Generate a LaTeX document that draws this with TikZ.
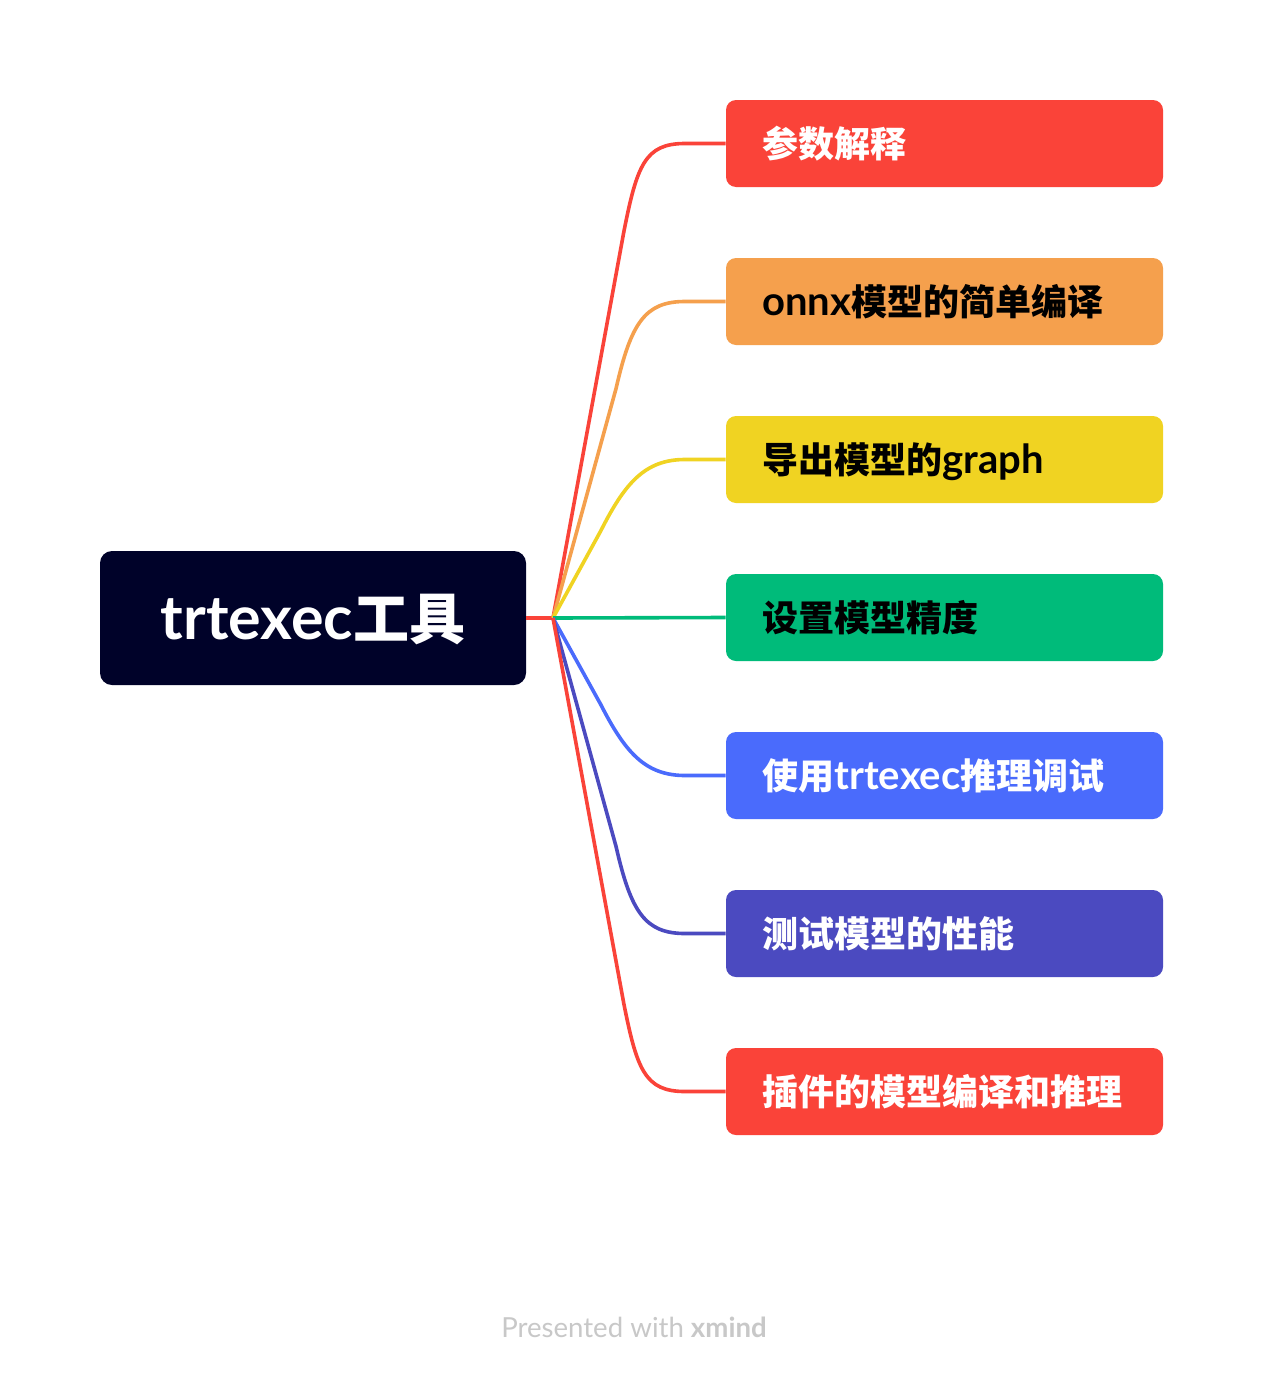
\documentclass[tikz,border=0pt]{standalone}
\usepackage{fontspec}
\newfontfamily\cjk{Noto Sans CJK SC}
\newfontfamily\latf{Lato}
\definecolor{cred}{HTML}{FA4339}
\definecolor{corange}{HTML}{F5A04D}
\definecolor{cyellow}{HTML}{F0D322}
\definecolor{cgreen}{HTML}{00BB7A}
\definecolor{cblue}{HTML}{4A6BFC}
\definecolor{cpurple}{HTML}{4B4AC0}
\definecolor{croot}{HTML}{000229}
\definecolor{cfoot}{HTML}{C8C8C8}
\newcommand{\lat}[1]{{\latf\bfseries\fontsize{20}{22}\selectfont #1}}
\begin{document}
\begin{tikzpicture}[x=0.5pt,y=-0.5pt,
  box/.style={rounded corners=5pt, minimum width=218.5pt, minimum height=43.5pt, inner sep=0pt, draw=none},
  lbl/.style={anchor=west, inner sep=0pt, text height=15.6pt, text depth=2pt, font=\cjk\bfseries\fontsize{18}{20}\selectfont},
  conn/.style={line width=1.8pt}]
\fill[white] (0,0) rectangle (1264,1376);
\useasboundingbox (0,0) rectangle (1264,1376);
% root
\node[fill=croot, rounded corners=6pt, minimum width=213pt, minimum height=67pt, inner sep=0pt] (root) at (313,618) {};
\node[inner sep=0pt, text=white, text height=23.2pt, text depth=2pt, font=\cjk\bfseries\fontsize{28}{30}\selectfont] (rootlbl) at (313,618) {{\latf\bfseries\fontsize{30.5}{32}\selectfont trtexec}工具};
% branches
\node[box, fill=cred] (b1) at (944.5,143.5) {};
\node[box, fill=corange] (b2) at (944.5,301.5) {};
\node[box, fill=cyellow] (b3) at (944.5,459.5) {};
\node[box, fill=cgreen] (b4) at (944.5,617.5) {};
\node[box, fill=cblue] (b5) at (944.5,775.5) {};
\node[box, fill=cpurple] (b6) at (944.5,933.5) {};
\node[box, fill=cred] (b7) at (944.5,1091.5) {};
\node[lbl, text=white] (t1) at (762,143.5) {参数解释};
\node[lbl, text=black] (t2) at (762,301.5) {\lat{onnx}模型的简单编译};
\node[lbl, text=black] (t3) at (762,459.5) {导出模型的\lat{graph}};
\node[lbl, text=black] (t4) at (762,617.5) {设置模型精度};
\node[lbl, text=white] (t5) at (762,775.5) {使用\lat{trtexec}推理调试};
\node[lbl, text=white] (t6) at (762,933.5) {测试模型的性能};
\node[lbl, text=white] (t7) at (762,1091.5) {插件的模型编译和推理};
% connectors
\coordinate (J) at (553,618);
\draw[conn, cred] (root.east) -- (J);
\draw[conn, cred] (J) -- (623.8,232.0) .. controls (637,165) and (645,143.5) .. (685,143.5) -- (b1.west);
\draw[conn, corange] (J) -- (616.1,388.3) .. controls (631,323) and (645,301.5) .. (685,301.5) -- (b2.west);
\draw[conn, cyellow] (J) -- (600.8,530.8) .. controls (625,483) and (645,459.5) .. (685,459.5) -- (b3.west);
\draw[conn, cgreen] (J) -- (b4.west);
\draw[conn, cblue] (J) -- (600.8,704.6) .. controls (625,752) and (645,775.5) .. (685,775.5) -- (b5.west);
\draw[conn, cpurple] (J) -- (616.1,846.7) .. controls (631,912) and (645,933.5) .. (685,933.5) -- (b6.west);
\draw[conn, cred] (J) -- (623.7,1003) .. controls (637,1070) and (645,1091.5) .. (685,1091.5) -- (b7.west);
% footer
\node[text=cfoot, font=\latf\fontsize{13.8}{15}\selectfont, inner sep=0pt] (foot) at (634,1327) {Presented with {\bfseries xmind}};
\end{tikzpicture}
\end{document}
